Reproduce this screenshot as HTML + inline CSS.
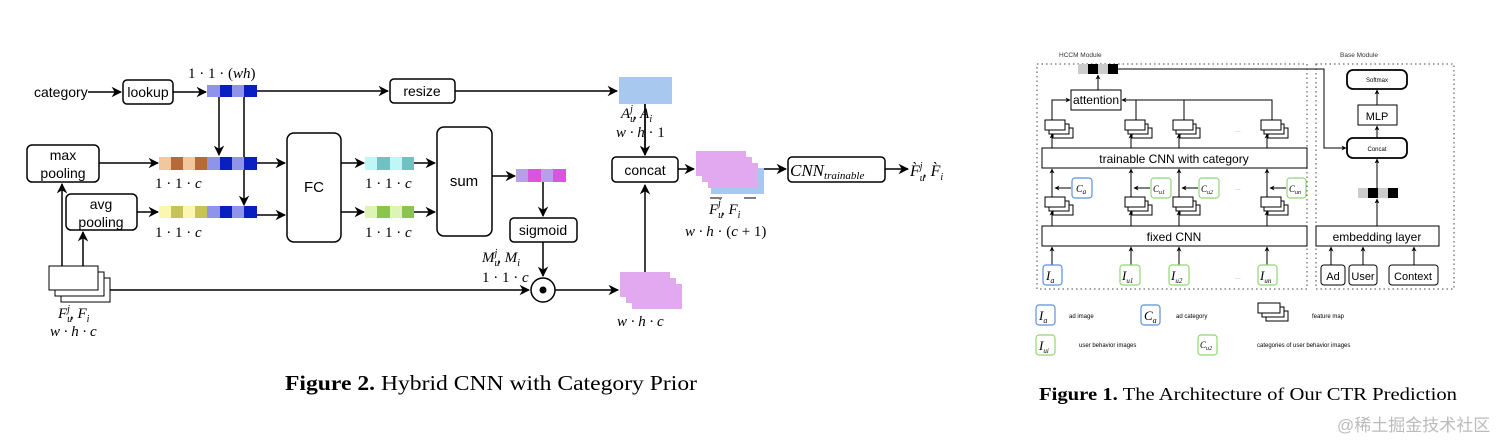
<!DOCTYPE html>
<html><head><meta charset="utf-8"><style>
html,body{margin:0;padding:0;background:#fff;}
svg{display:block;}
.s{font-family:"Liberation Sans",sans-serif;}
.m{font-family:"Liberation Serif",serif;font-style:italic;}
.r{font-family:"Liberation Serif",serif;}
</style></head><body>
<svg width="1512" height="448" viewBox="0 0 1512 448" xmlns="http://www.w3.org/2000/svg">
<defs>
<marker id="a" viewBox="0 0 10 10" refX="9" refY="5" markerWidth="7" markerHeight="7" orient="auto-start-reverse"><path d="M0,0 L10,5 L0,10 L3,5 z" fill="#000"/></marker>
<marker id="b" viewBox="0 0 10 10" refX="9" refY="5" markerWidth="5" markerHeight="5" orient="auto-start-reverse"><path d="M0,0 L10,5 L0,10 L3,5 z" fill="#000"/></marker>
</defs>
<rect width="1512" height="448" fill="#fff"/>

<!-- ===== LEFT FIGURE ===== -->
<g stroke="#000" stroke-width="1.5" fill="none">
<line x1="88" y1="92" x2="121" y2="92" marker-end="url(#a)"/>
<rect x="123" y="80" width="50" height="24" rx="4" fill="#fff"/>
<line x1="173" y1="92" x2="206" y2="92" marker-end="url(#a)"/>
<line x1="257" y1="91" x2="388" y2="91" marker-end="url(#a)"/>
<rect x="390" y="79" width="65" height="24" rx="4" fill="#fff"/>
<line x1="455" y1="91" x2="617" y2="91" marker-end="url(#a)"/>
<line x1="219" y1="97" x2="219" y2="155" marker-end="url(#a)"/>
<line x1="244" y1="97" x2="244" y2="205" marker-end="url(#a)"/>
<rect x="27" y="145" width="72" height="37" rx="5" fill="#fff"/>
<line x1="99" y1="163" x2="158" y2="163" marker-end="url(#a)"/>
<rect x="66" y="194" width="71" height="36" rx="5" fill="#fff"/>
<line x1="137" y1="212" x2="158" y2="212" marker-end="url(#a)"/>
<line x1="257" y1="163" x2="285" y2="163" marker-end="url(#a)"/>
<line x1="257" y1="215" x2="285" y2="215" marker-end="url(#a)"/>
<rect x="287" y="133" width="54" height="109" rx="7" fill="#fff"/>
<line x1="341" y1="163" x2="364" y2="163" marker-end="url(#a)"/>
<line x1="341" y1="212" x2="364" y2="212" marker-end="url(#a)"/>
<line x1="414" y1="163" x2="435" y2="163" marker-end="url(#a)"/>
<line x1="414" y1="212" x2="435" y2="212" marker-end="url(#a)"/>
<rect x="437" y="127" width="55" height="109" rx="7" fill="#fff"/>
<line x1="492" y1="176" x2="515" y2="176" marker-end="url(#a)"/>
<line x1="543" y1="182" x2="543" y2="216" marker-end="url(#a)"/>
<rect x="510" y="218" width="67" height="24" rx="4" fill="#fff"/>
<line x1="543" y1="242" x2="543" y2="276" marker-end="url(#a)"/>
<line x1="62" y1="266" x2="62" y2="184" marker-end="url(#a)"/>
<line x1="83" y1="266" x2="83" y2="232" marker-end="url(#a)"/>
<line x1="110" y1="290" x2="529" y2="290" marker-end="url(#a)"/>
<circle cx="543" cy="290" r="12" fill="#fff"/>
<line x1="555" y1="290" x2="618" y2="290" marker-end="url(#a)"/>
<line x1="645" y1="272" x2="645" y2="185" marker-end="url(#a)"/>
<line x1="645" y1="104" x2="645" y2="155" marker-end="url(#a)"/>
<rect x="612" y="157" width="66" height="25" rx="4" fill="#fff"/>
<line x1="678" y1="169" x2="694" y2="169" marker-end="url(#a)"/>
<line x1="763" y1="169" x2="786" y2="169" marker-end="url(#a)"/>
<rect x="788" y="157" width="97" height="25" rx="4" fill="#fff"/>
<line x1="885" y1="169" x2="908" y2="169" marker-end="url(#a)"/>
<!-- feature stack -->
<rect x="61" y="278" width="49" height="24" fill="#fff" stroke-width="1"/>
<rect x="55" y="272" width="49" height="24" fill="#fff" stroke-width="1"/>
<rect x="49" y="266" width="49" height="24" fill="#fff" stroke-width="1"/>
</g>
<circle cx="543" cy="290" r="3.5" fill="#000"/>
<!-- vectors -->
<g stroke="none">
<rect x="207" y="85" width="13" height="12" fill="#8f94e8"/><rect x="220" y="85" width="12" height="12" fill="#0a1fc0"/><rect x="232" y="85" width="12" height="12" fill="#8f94e8"/><rect x="244" y="85" width="13" height="12" fill="#0a1fc0"/>
<rect x="159" y="157" width="12" height="13" fill="#f0c89c"/><rect x="171" y="157" width="12" height="13" fill="#b8693a"/><rect x="183" y="157" width="12" height="13" fill="#f0c89c"/><rect x="195" y="157" width="12" height="13" fill="#b8693a"/>
<rect x="207" y="157" width="13" height="13" fill="#8f94e8"/><rect x="220" y="157" width="12" height="13" fill="#0a1fc0"/><rect x="232" y="157" width="12" height="13" fill="#8f94e8"/><rect x="244" y="157" width="13" height="13" fill="#0a1fc0"/>
<rect x="159" y="206" width="12" height="12" fill="#fbf6b0"/><rect x="171" y="206" width="12" height="12" fill="#c8c25a"/><rect x="183" y="206" width="12" height="12" fill="#fbf6b0"/><rect x="195" y="206" width="12" height="12" fill="#c8c25a"/>
<rect x="207" y="206" width="13" height="12" fill="#8f94e8"/><rect x="220" y="206" width="12" height="12" fill="#0a1fc0"/><rect x="232" y="206" width="12" height="12" fill="#8f94e8"/><rect x="244" y="206" width="13" height="12" fill="#0a1fc0"/>
<rect x="365" y="157" width="12" height="13" fill="#c0f6f6"/><rect x="377" y="157" width="13" height="13" fill="#70c2c2"/><rect x="390" y="157" width="12" height="13" fill="#c0f6f6"/><rect x="402" y="157" width="12" height="13" fill="#70c2c2"/>
<rect x="365" y="206" width="12" height="12" fill="#dcf4b4"/><rect x="377" y="206" width="13" height="12" fill="#8cc450"/><rect x="390" y="206" width="12" height="12" fill="#dcf4b4"/><rect x="402" y="206" width="12" height="12" fill="#8cc450"/>
<rect x="516" y="169" width="12" height="13" fill="#b8a0e8"/><rect x="528" y="169" width="13" height="13" fill="#d855e0"/><rect x="541" y="169" width="12" height="13" fill="#b8a0e8"/><rect x="553" y="169" width="13" height="13" fill="#d855e0"/>
<rect x="619" y="77" width="53" height="27" fill="#a8c8f0"/>
<rect x="620" y="272" width="50" height="25" fill="#e2a8f0"/><rect x="626" y="278" width="50" height="25" fill="#e2a8f0"/><rect x="632" y="284" width="50" height="25" fill="#e2a8f0"/>
<rect x="711" y="168" width="53" height="26" fill="#a8c8f0"/>
<rect x="696" y="151" width="50" height="25" fill="#e2a8f0"/><rect x="702" y="157" width="50" height="25" fill="#e2a8f0"/><rect x="708" y="163" width="50" height="25" fill="#e2a8f0"/>
</g>
<line x1="645" y1="104" x2="645" y2="155" stroke="#000" stroke-width="1.5"/>
<!-- texts -->
<g class="s" font-size="14" fill="#000">
<text x="34" y="97">category</text>
<text x="148" y="97" text-anchor="middle">lookup</text>
<text x="422" y="96" text-anchor="middle">resize</text>
<text x="63" y="160" text-anchor="middle">max</text>
<text x="63" y="178" text-anchor="middle">pooling</text>
<text x="101" y="209" text-anchor="middle">avg</text>
<text x="101" y="227" text-anchor="middle">pooling</text>
<text x="314" y="192" text-anchor="middle" font-size="15">FC</text>
<text x="464" y="186" text-anchor="middle" font-size="15">sum</text>
<text x="543" y="235" text-anchor="middle">sigmoid</text>
<text x="645" y="175" text-anchor="middle">concat</text>
</g>
<g class="r" font-size="15" fill="#000">
<text x="188" y="78">1 · 1 · (<tspan class="m">wh</tspan>)</text>
<text x="155" y="188">1 · 1 · <tspan class="m">c</tspan></text>
<text x="155" y="237">1 · 1 · <tspan class="m">c</tspan></text>
<text x="365" y="188">1 · 1 · <tspan class="m">c</tspan></text>
<text x="365" y="237">1 · 1 · <tspan class="m">c</tspan></text>
<text x="58" y="318" class="m">F<tspan font-size="10" dy="4">u</tspan><tspan font-size="10" dy="-10" dx="-5">j</tspan><tspan dy="6">, F</tspan><tspan font-size="10" dy="4">i</tspan></text>
<text x="50" y="336" class="m">w · h · c</text>
<text x="482" y="262" class="m">M<tspan font-size="10" dy="4">u</tspan><tspan font-size="10" dy="-10" dx="-5">j</tspan><tspan dy="6">, M</tspan><tspan font-size="10" dy="4">i</tspan></text>
<text x="482" y="282">1 · 1 · <tspan class="m">c</tspan></text>
<text x="621" y="118" class="m">A<tspan font-size="10" dy="4">u</tspan><tspan font-size="10" dy="-10" dx="-5">j</tspan><tspan dy="6">, A</tspan><tspan font-size="10" dy="4">i</tspan></text>
<text x="616" y="137"><tspan class="m">w · h</tspan> · 1</text>
<text x="617" y="326" class="m">w · h · c</text>
<text x="709" y="214" class="m">F<tspan font-size="10" dy="4">u</tspan><tspan font-size="10" dy="-12" dx="-5">j</tspan><tspan dy="8">, F</tspan><tspan font-size="10" dy="4">i</tspan></text>
<line x1="710" y1="198" x2="722" y2="198" stroke="#000"/><line x1="744" y1="198" x2="756" y2="198" stroke="#000"/>
<text x="685" y="236"><tspan class="m">w · h</tspan> · (<tspan class="m">c</tspan> + 1)</text>
<text x="790" y="176" class="m" font-size="17">CNN<tspan font-size="11" dy="3">trainable</tspan></text>
<text x="910" y="176" class="m" font-size="16">F̀<tspan font-size="10" dy="5">u</tspan><tspan font-size="10" dy="-12" dx="-5">j</tspan><tspan dy="7">, F̀</tspan><tspan font-size="10" dy="4">i</tspan></text>
</g>
<text x="285" y="390" class="r" font-size="21" textLength="412" lengthAdjust="spacingAndGlyphs"><tspan font-weight="bold">Figure 2.</tspan> Hybrid CNN with Category Prior</text>

<!-- ===== RIGHT FIGURE ===== -->
<g fill="none" stroke="#444" stroke-width="1" stroke-dasharray="1.5,3">
<rect x="1037" y="64" width="270" height="225"/>
<rect x="1316" y="64" width="138" height="225"/>
</g>
<g class="s" font-size="6.5" fill="#333">
<text x="1059" y="57">HCCM Module</text>
<text x="1340" y="57">Base Module</text>
</g>
<g stroke="none">
<rect x="1078" y="64" width="10" height="10" fill="#ccc"/><rect x="1088" y="64" width="10" height="10" fill="#000"/><rect x="1098" y="64" width="10" height="10" fill="#ccc"/><rect x="1108" y="64" width="10" height="10" fill="#000"/>
<rect x="1358" y="188" width="10" height="10" fill="#ccc"/><rect x="1368" y="188" width="10" height="10" fill="#000"/><rect x="1378" y="188" width="10" height="10" fill="#ccc"/><rect x="1388" y="188" width="10" height="10" fill="#000"/>
</g>
<g stroke="#000" stroke-width="1" fill="none">
<polyline points="1118,69 1324,69 1324,148 1346,148" marker-end="url(#b)"/>
<line x1="1098" y1="90" x2="1098" y2="75" marker-end="url(#b)"/>
<rect x="1071" y="90" width="50" height="20" fill="#fff"/>
<polyline points="1052,120 1052,100 1070,100" marker-end="url(#b)"/>
<polyline points="1272,120 1272,100 1122,100" marker-end="url(#b)"/>
<line x1="1136" y1="120" x2="1136" y2="100"/>
<line x1="1184" y1="120" x2="1184" y2="100"/>
<rect x="1042" y="148" width="265" height="20" fill="#fff"/>
<rect x="1042" y="226" width="265" height="20" fill="#fff"/>
<rect x="1316" y="226" width="123" height="20" fill="#fff"/>
<rect x="1347" y="70" width="60" height="19" rx="6" fill="#fff" stroke-width="1.8"/>
<rect x="1358" y="105" width="39" height="20" fill="#fff"/>
<rect x="1347" y="138" width="60" height="20" rx="6" fill="#fff" stroke-width="1.8"/>
<line x1="1377" y1="105" x2="1377" y2="90" marker-end="url(#b)"/>
<line x1="1377" y1="138" x2="1377" y2="126" marker-end="url(#b)"/>
<line x1="1377" y1="188" x2="1377" y2="159" marker-end="url(#b)"/>
<line x1="1377" y1="226" x2="1377" y2="199" marker-end="url(#b)"/>
<rect x="1321" y="265" width="24" height="20" rx="3" fill="#fff"/>
<rect x="1349" y="265" width="28" height="20" rx="3" fill="#fff"/>
<rect x="1389" y="265" width="49" height="20" rx="3" fill="#fff"/>
<line x1="1331" y1="265" x2="1331" y2="247" marker-end="url(#b)"/>
<line x1="1363" y1="265" x2="1363" y2="247" marker-end="url(#b)"/>
<line x1="1414" y1="265" x2="1414" y2="247" marker-end="url(#b)"/>
</g>
<!-- columns -->
<g stroke="#000" stroke-width="1" fill="none">
<!-- col xs: 1052, 1131, 1179, 1267 -->
<g id="col">
</g>
</g>
<g stroke="#000" stroke-width="1" fill="#fff">
<!-- col 1 -->
<line x1="1052" y1="265" x2="1052" y2="247" marker-end="url(#b)"/>
<line x1="1052" y1="226" x2="1052" y2="211" marker-end="url(#b)"/>
<rect x="1053" y="205" width="20" height="10"/><rect x="1049" y="201" width="20" height="10"/><rect x="1045" y="197" width="20" height="10"/>
<line x1="1052" y1="197" x2="1052" y2="169" marker-end="url(#b)"/>
<line x1="1071" y1="188" x2="1055" y2="188" marker-end="url(#b)"/>
<line x1="1052" y1="148" x2="1052" y2="134" marker-end="url(#b)"/>
<rect x="1053" y="128" width="20" height="10"/><rect x="1049" y="124" width="20" height="10"/><rect x="1045" y="120" width="20" height="10"/>
<!-- col 2 -->
<line x1="1131" y1="265" x2="1131" y2="247" marker-end="url(#b)"/>
<line x1="1131" y1="226" x2="1131" y2="211" marker-end="url(#b)"/>
<rect x="1132" y="205" width="20" height="10"/><rect x="1128" y="201" width="20" height="10"/><rect x="1125" y="197" width="20" height="10"/>
<line x1="1131" y1="197" x2="1131" y2="169" marker-end="url(#b)"/>
<line x1="1150" y1="188" x2="1134" y2="188" marker-end="url(#b)"/>
<line x1="1131" y1="148" x2="1131" y2="134" marker-end="url(#b)"/>
<rect x="1132" y="128" width="20" height="10"/><rect x="1128" y="124" width="20" height="10"/><rect x="1125" y="120" width="20" height="10"/>
<!-- col 3 -->
<line x1="1179" y1="265" x2="1179" y2="247" marker-end="url(#b)"/>
<line x1="1179" y1="226" x2="1179" y2="211" marker-end="url(#b)"/>
<rect x="1180" y="205" width="20" height="10"/><rect x="1176" y="201" width="20" height="10"/><rect x="1173" y="197" width="20" height="10"/>
<line x1="1179" y1="197" x2="1179" y2="169" marker-end="url(#b)"/>
<line x1="1198" y1="188" x2="1182" y2="188" marker-end="url(#b)"/>
<line x1="1179" y1="148" x2="1179" y2="134" marker-end="url(#b)"/>
<rect x="1180" y="128" width="20" height="10"/><rect x="1176" y="124" width="20" height="10"/><rect x="1173" y="120" width="20" height="10"/>
<!-- col 4 -->
<line x1="1267" y1="265" x2="1267" y2="247" marker-end="url(#b)"/>
<line x1="1267" y1="226" x2="1267" y2="211" marker-end="url(#b)"/>
<rect x="1268" y="205" width="20" height="10"/><rect x="1264" y="201" width="20" height="10"/><rect x="1261" y="197" width="20" height="10"/>
<line x1="1267" y1="197" x2="1267" y2="169" marker-end="url(#b)"/>
<line x1="1286" y1="188" x2="1270" y2="188" marker-end="url(#b)"/>
<line x1="1267" y1="148" x2="1267" y2="134" marker-end="url(#b)"/>
<rect x="1268" y="128" width="20" height="10"/><rect x="1264" y="124" width="20" height="10"/><rect x="1261" y="120" width="20" height="10"/>
</g>
<!-- colored boxes -->
<g fill="#fff" stroke-width="1.2">
<rect x="1072" y="178" width="20" height="20" rx="3" stroke="#5b8fe0"/>
<rect x="1151" y="178" width="20" height="20" rx="3" stroke="#8fd870"/>
<rect x="1199" y="178" width="20" height="20" rx="3" stroke="#8fd870"/>
<rect x="1287" y="178" width="19" height="20" rx="3" stroke="#8fd870"/>
<rect x="1043" y="265" width="19" height="20" rx="3" stroke="#5b8fe0"/>
<rect x="1120" y="265" width="20" height="20" rx="3" stroke="#8fd870"/>
<rect x="1169" y="265" width="20" height="20" rx="3" stroke="#8fd870"/>
<rect x="1258" y="265" width="19" height="20" rx="3" stroke="#8fd870"/>
<rect x="1036" y="305" width="19" height="20" rx="3" stroke="#5b8fe0"/>
<rect x="1141" y="305" width="19" height="20" rx="3" stroke="#5b8fe0"/>
<rect x="1036" y="335" width="19" height="20" rx="3" stroke="#8fd870"/>
<rect x="1198" y="335" width="19" height="20" rx="3" stroke="#8fd870"/>
</g>
<g stroke="#000" stroke-width="1" fill="#fff">
<rect x="1266" y="311" width="22" height="10"/><rect x="1262" y="307" width="22" height="10"/><rect x="1258" y="303" width="22" height="10"/>
</g>
<g class="s" fill="#000">
<text x="1096" y="104" font-size="12" text-anchor="middle">attention</text>
<text x="1174" y="163" font-size="12" text-anchor="middle">trainable CNN with category</text>
<text x="1174" y="241" font-size="12" text-anchor="middle">fixed CNN</text>
<text x="1377" y="241" font-size="12" text-anchor="middle">embedding layer</text>
<text x="1377" y="82" font-size="6" text-anchor="middle">Softmax</text>
<text x="1377" y="120" font-size="11" text-anchor="middle">MLP</text>
<text x="1377" y="151" font-size="6" text-anchor="middle">Concat</text>
<text x="1333" y="280" font-size="11" text-anchor="middle">Ad</text>
<text x="1363" y="280" font-size="11" text-anchor="middle">User</text>
<text x="1413" y="280" font-size="11" text-anchor="middle">Context</text>
<text x="1069" y="318" font-size="6">ad image</text>
<text x="1176" y="318" font-size="6">ad category</text>
<text x="1312" y="318" font-size="6">feature map</text>
<text x="1079" y="347" font-size="6">user behavior images</text>
<text x="1257" y="347" font-size="6">categories of user behavior images</text>
<text x="1235" y="190" font-size="7" fill="#999">...</text>
<text x="1235" y="279" font-size="7" fill="#999">...</text>
<text x="1235" y="132" font-size="7" fill="#999">...</text>
</g>
<g class="m" fill="#000">
<text x="1076" y="192" font-size="10">C<tspan font-size="7" dy="2">a</tspan></text>
<text x="1153" y="192" font-size="9">C<tspan font-size="6" dy="2">u1</tspan></text>
<text x="1201" y="192" font-size="9">C<tspan font-size="6" dy="2">u2</tspan></text>
<text x="1289" y="192" font-size="9">C<tspan font-size="6" dy="2">un</tspan></text>
<text x="1046" y="280" font-size="13">I<tspan font-size="8" dy="3">a</tspan></text>
<text x="1122" y="280" font-size="13">I<tspan font-size="7" dy="3">u1</tspan></text>
<text x="1171" y="280" font-size="13">I<tspan font-size="7" dy="3">u2</tspan></text>
<text x="1260" y="280" font-size="13">I<tspan font-size="7" dy="3">un</tspan></text>
<text x="1039" y="320" font-size="13">I<tspan font-size="8" dy="3">a</tspan></text>
<text x="1144" y="320" font-size="13">C<tspan font-size="8" dy="3">a</tspan></text>
<text x="1039" y="350" font-size="13">I<tspan font-size="7" dy="3">ui</tspan></text>
<text x="1200" y="348" font-size="9">C<tspan font-size="6" dy="2">u2</tspan></text>
</g>
<text x="1039" y="400" class="r" font-size="18" textLength="418" lengthAdjust="spacingAndGlyphs"><tspan font-weight="bold">Figure 1.</tspan> The Architecture of Our CTR Prediction</text>
<text x="1337" y="431" font-family="'Liberation Sans','Noto Sans CJK SC',sans-serif" font-size="17" fill="#bbb">@稀土掘金技术社区</text>
</svg>
</body></html>
